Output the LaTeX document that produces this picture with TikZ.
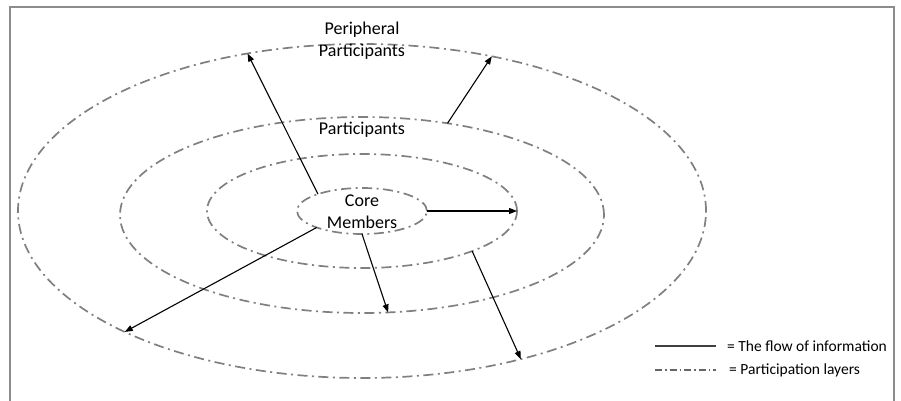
\documentclass[tikz,border=0pt]{standalone}
\usepackage{fontspec}
\setmainfont{Carlito}
\usetikzlibrary{shapes.geometric,arrows.meta}
\definecolor{layergray}{RGB}{128,128,128}
\definecolor{framegray}{RGB}{140,140,140}
\tikzset{
  layer/.style={ellipse, draw=layergray, line width=1.7pt, inner sep=0pt, outer sep=0pt,
    dash pattern=on 10pt off 4.5pt on 2pt off 4.5pt},
  flow/.style={line width=1.1pt, -{Triangle[length=8pt,width=6pt]}},
  lbl/.style={align=center, font=\fontsize{18}{22}\selectfont, inner sep=0pt},
  legtxt/.style={anchor=west, font=\fontsize{15.5}{18}\selectfont, inner sep=0pt},
}
\begin{document}
\begin{tikzpicture}[x=1pt,y=-1pt]
\useasboundingbox (0,0) rectangle (901,401);
\draw[framegray, line width=1.5pt] (10,405) -- (10,7) -- (894,7) -- (894,405);
% participation layers
\node[layer, minimum width=688pt, minimum height=334pt] (outer) at (362,211) {};
\node[layer, minimum width=484pt, minimum height=196pt] (part) at (362,215) {};
\node[layer, minimum width=310pt, minimum height=114pt] (second) at (362,211) {};
\node[layer, minimum width=130pt, minimum height=46pt] (core) at (362,211) {};
% labels
\node[lbl] (lperiph) at (362,41) {Peripheral\\Participants};
\node[lbl] (lpart) at (362,130) {Participants};
\node[lbl] (lcore) at (362,212) {Core\\Members};
% flows
\draw[flow] (core.159.7) -- (outer.126);
\draw[flow] (part.47.4) -- (outer.50.3);
\draw[flow] (core.0) -- (second.0);
\draw[flow] (core.-90) -- (part.-75.6);
\draw[flow] (second.-20.9) -- (outer.-43.3);
\draw[flow] (core.-160.8) -- (outer.-153.8);
% legend
\coordinate (ls1) at (655,346);
\coordinate (ls2) at (716,346);
\coordinate (ld1) at (655,370);
\coordinate (ld2) at (716,370);
\draw[line width=1.3pt, black!75] (ls1) -- (ls2);
\draw[line width=1.3pt, black!60, dash pattern=on 7pt off 3pt on 1.5pt off 3pt] (ld1) -- (ld2);
\node[legtxt] (t1) at (727,346) {= The flow of information};
\node[legtxt] (t2) at (729,370) {= Participation layers};
\end{tikzpicture}
\end{document}
